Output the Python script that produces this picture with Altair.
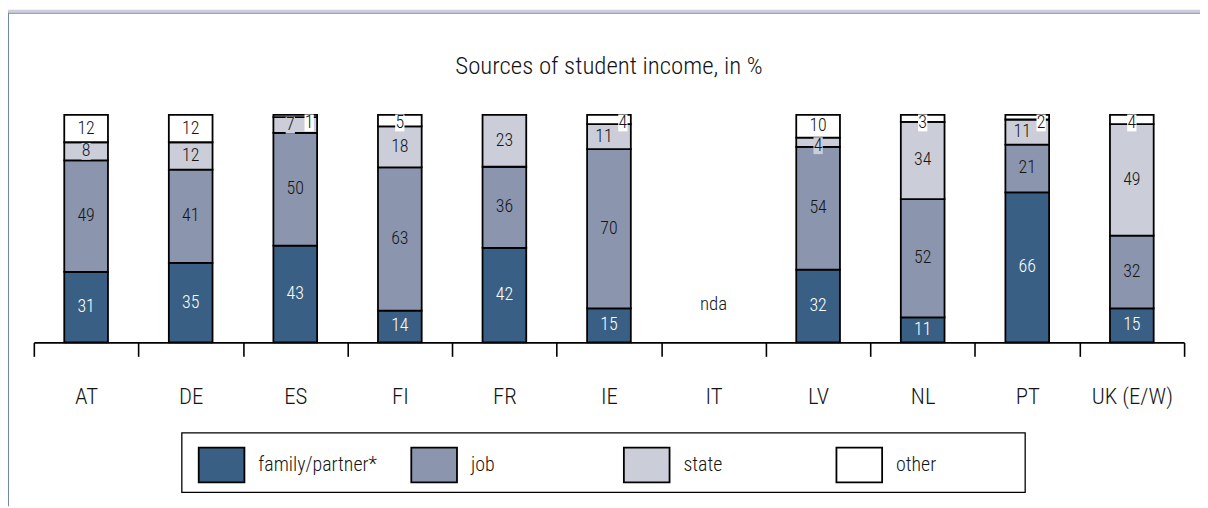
import json
import altair as alt
import pandas as pd

# ---------------- data ----------------
countries = ["AT", "DE", "ES", "FI", "FR", "IE", "IT", "LV", "NL", "PT", "UK (E/W)"]
sources = ["family/partner*", "job", "state", "other"]
family = [31, 35, 43, 14, 42, 15, None, 32, 11, 66, 15]
job = [49, 41, 50, 63, 36, 70, None, 54, 52, 21, 32]
state = [8, 12, 7, 18, 23, 11, None, 4, 34, 11, 49]
other = [12, 12, 1, 5, 0, 4, None, 10, 3, 2, 4]
no_data = ["IT"]
no_data_label = ["nda"]
title_text = ["Sources of student income, in %"]

colors = ["#3a5f84", "#8b96ae", "#cbced9", "#ffffff"]
FONT = "Roboto Condensed, Roboto, sans-serif"
FW = 300
TXT = "#151515"

rows = []
for i, c in enumerate(countries):
    for j, (s, vals) in enumerate(zip(sources, [family, job, state, other])):
        v = vals[i]
        if v is None or v == 0:
            continue
        rows.append({"country": c, "source": s, "order": j, "value": v, "label": str(v)})
df = pd.DataFrame(rows)

W, H = 1158, 229
PAD = {"left": 26, "top": 106, "right": 16, "bottom": 165}

x = alt.X(
    "country:N",
    sort=countries,
    scale=alt.Scale(domain=countries, paddingInner=0, paddingOuter=0),
    axis=alt.Axis(
        title=None, labelAngle=0, tickBand="extent", tickSize=14, tickWidth=1.6,
        tickColor="black", domainColor="black", domainWidth=1.8, labelFontSize=23,
        labelFont=FONT, labelFontWeight=FW, labelColor=TXT, labelPadding=29, grid=False,
    ),
)

base = (
    alt.Chart(df)
    .transform_stack(
        stack="value", groupby=["country"], as_=["y0", "y1"], offset="normalize",
        sort=[alt.SortField("order", order="ascending")],
    )
    .transform_calculate(ly="min((datum.y0 + datum.y1) / 2, datum.y1 - 0.035)")
)

ysc = alt.Scale(domain=[0, 1])

bars = base.mark_bar(width=44, stroke="black", strokeWidth=1.8).encode(
    x=x,
    y=alt.Y("y0:Q", scale=ysc, axis=None),
    y2="y1:Q",
    color=alt.Color(
        "source:N",
        scale=alt.Scale(domain=sources, range=colors),
        legend=alt.Legend(
            title=None, orient="none", legendX=152, legendY=315, direction="horizontal",
            columns=4, gridAlign="all", columnPadding=30, padding=13,
            symbolType="M-1,-0.76H1V0.76H-1Z", symbolSize=2116, symbolStrokeColor="black",
            symbolStrokeWidth=1.8, symbolOpacity=1, labelFont=FONT, labelFontWeight=FW,
            labelFontSize=20, labelColor=TXT, labelOffset=13, labelLimit=300,
        ),
    ),
)

box_expr = (
    "datum.source == 'job' ? '" + colors[1] + "' : (datum.source == 'state' ? '"
    + colors[2] + "' : '" + colors[3] + "')"
)
path_expr = "length(datum.label) > 1 ? 'M-1,-1H1V1H-1Z' : 'M-0.55,-1H0.55V1H-0.55Z'"

shifted = ["ES", "IE", "PT"]
in_shift = "indexof(" + json.dumps(shifted) + ", datum.country) >= 0"


def label_layers(filt, dx):
    b = base.transform_filter(filt)
    box = (
        b.transform_filter("datum.source != 'family/partner*'")
        .transform_calculate(boxcol=box_expr, boxpath=path_expr)
        .mark_point(filled=True, opacity=1, size=289, strokeWidth=0, xOffset=dx)
        .encode(
            x=x,
            y=alt.Y("ly:Q", scale=ysc),
            fill=alt.Fill("boxcol:N", scale=None),
            shape=alt.Shape("boxpath:N", scale=None),
        )
    )
    txt = b.mark_text(dx=dx, fontSize=18, font=FONT, fontWeight=FW).encode(
        x=x,
        y=alt.Y("ly:Q", scale=ysc),
        text="label:N",
        color=alt.when(alt.datum.source == "family/partner*")
        .then(alt.value("white"))
        .otherwise(alt.value(TXT)),
    )
    return [box, txt]


layers_a = label_layers(
    "!(" + in_shift + " && (datum.source == 'state' || datum.source == 'other'))", 0
)
layers_b = label_layers(in_shift + " && datum.source == 'other'", 14)
layers_c = label_layers(in_shift + " && datum.source == 'state'", -5)

nda = (
    alt.Chart(pd.DataFrame({"country": no_data, "label": no_data_label}))
    .mark_text(fontSize=19, font=FONT, fontWeight=FW, color=TXT)
    .encode(x=x, y=alt.value(190), text="label:N")
)

title = (
    alt.Chart(pd.DataFrame({"t": title_text}))
    .mark_text(fontSize=25, font=FONT, fontWeight=FW, color=TXT)
    .encode(x=alt.value(W / 2), y=alt.value(-49), text="t:N")
)

one = pd.DataFrame({"k": [0]})
frame_top = alt.Chart(one).mark_rect(color="#cbcdd9").encode(
    x=alt.value(-PAD["left"]), x2=alt.value(W + PAD["right"]),
    y=alt.value(-PAD["top"]), y2=alt.value(-PAD["top"] + 3),
)
line_top = alt.Chart(one).mark_rect(color="#7189aa").encode(
    x=alt.value(-PAD["left"]), x2=alt.value(W + PAD["right"]),
    y=alt.value(-PAD["top"] + 3), y2=alt.value(-PAD["top"] + 4),
)
line_left = alt.Chart(one).mark_rect(color="#7189aa").encode(
    x=alt.value(-PAD["left"]), x2=alt.value(-PAD["left"] + 1),
    y=alt.value(-PAD["top"] + 3), y2=alt.value(H + PAD["bottom"]),
)
legend_box = alt.Chart(one).mark_rect(
    fillOpacity=0, stroke="black", strokeWidth=1.3
).encode(
    x=alt.value(149), x2=alt.value(998), y=alt.value(320), y2=alt.value(380),
)

chart = (
    alt.layer(
        frame_top, line_top, line_left, legend_box, title, bars,
        *layers_a, *layers_b, *layers_c, nda
    )
    .properties(
        width=W,
        height=H,
        padding=PAD,
        autosize=alt.AutoSizeParams(type="none"),
        background="white",
    )
    .configure_view(stroke=None)
)

chart.save("out.html", embed_options={"renderer": "svg", "actions": False})
